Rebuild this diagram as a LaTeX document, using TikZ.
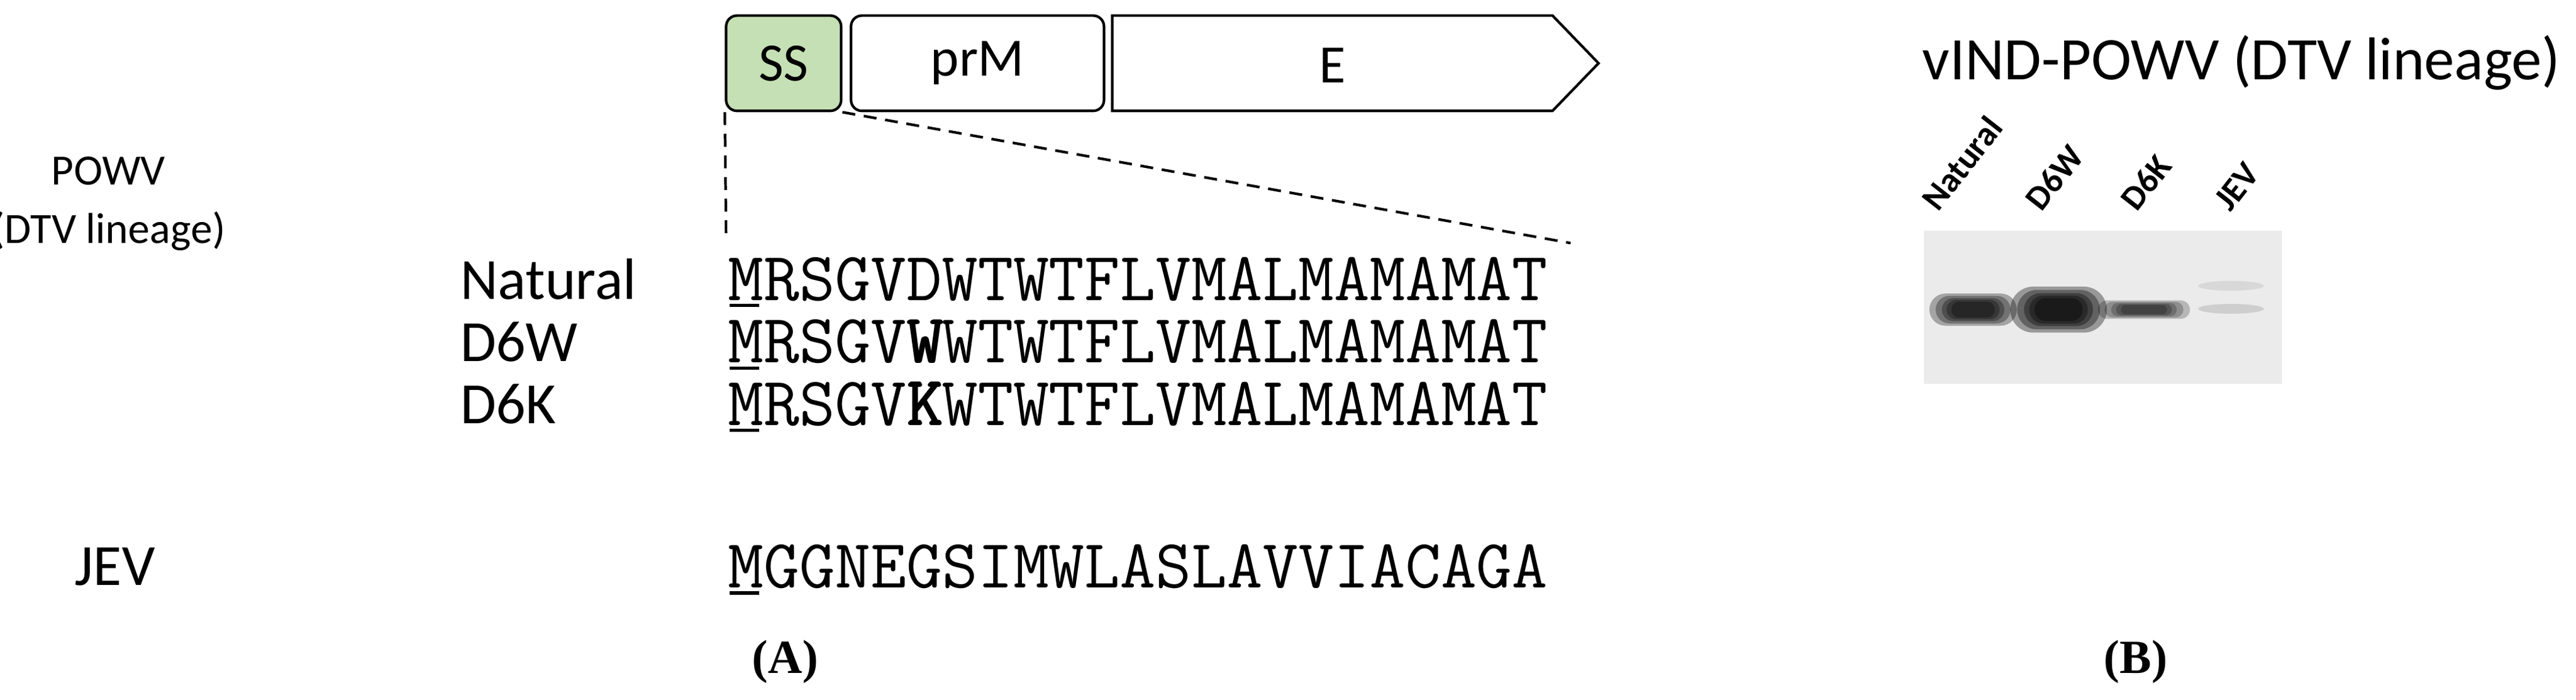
\documentclass[tikz,border=0pt]{standalone}
\usepackage{fontspec}
\setmainfont{Carlito}
\newfontfamily\capfont{Liberation Serif}
\usetikzlibrary{shapes.geometric}
\newcommand{\fakebold}[1]{\makebox[0pt][l]{\kern0.5pt #1}\makebox[0pt][l]{\kern1pt #1}\makebox[0pt][l]{\raisebox{0.4pt}{\kern0.5pt #1}}#1}
\begin{document}
\begin{tikzpicture}[x=0.0267cm,y=-0.0267cm,
  lab/.style={font=\fontsize{27}{30}\selectfont, inner sep=0pt},
  seq/.style={font=\ttfamily\fontsize{32}{34}\selectfont, anchor=west, inner sep=0pt},
  gene/.style={draw, line width=1.2pt, rounded corners=5pt, font=\fontsize{25}{28}\selectfont},
  lane/.style={font=\bfseries\fontsize{16}{17}\selectfont, rotate=52, anchor=south west, inner sep=0pt},
  dash line/.style={line width=1.2pt, dash pattern=on 6pt off 4pt}]
\useasboundingbox (0,0) rectangle (1568,426);
% gene map
\node[gene, fill={rgb,255:red,197;green,224;blue,180}, minimum width=70*0.0267cm, minimum height=58*0.0267cm] (ss) at (477,38.5) {SS};
\node[gene, minimum width=154*0.0267cm, minimum height=58*0.0267cm] (prm) at (595,38.5) {prM};
\draw[line width=1.2pt, line join=miter] (677,9.5) -- (945,9.5) -- (973,38.5) -- (945,67.5) -- (677,67.5) -- cycle;
\node[font=\fontsize{25}{28}\selectfont] (e) at (811,40) {E};
\coordinate (d1) at (442,146);
\coordinate (d2) at (956,148);
\draw[dash line] (ss.south west) -- (d1);
\draw[dash line] (ss.south east) -- (d2);
% left labels
\node[font=\fontsize{20}{27}\selectfont, align=center, inner sep=0pt] (powv) at (66,124) {POWV\\(DTV lineage)};
\node[lab, anchor=west] (nat) at (280,170) {Natural};
\node[lab, anchor=west] (d6w) at (280,208) {D6W};
\node[lab, anchor=west] (d6k) at (280,246) {D6K};
\node[lab] (jev) at (70,345) {JEV};
% sequences
\node[seq] (s1) at (443,170) {MRSGVDWTWTFLVMALMAMAMAT};
\node[seq] (s2) at (443,208) {MRSGV\fakebold{W}WTWTFLVMALMAMAMAT};
\node[seq] (s3) at (443,246) {MRSGV\fakebold{K}WTWTFLVMALMAMAMAT};
\node[seq] (s4) at (443,345) {MGGNEGSIMWLASLAVVIACAGA};
\foreach \y in {186,224,262,361} \draw[line width=1.5pt] (444,\y) -- (462,\y);
% captions
\node[font=\capfont\bfseries\fontsize{22}{24}\selectfont] (ca) at (478,403) {(A)};
\node[font=\capfont\bfseries\fontsize{22}{24}\selectfont] (cb) at (1300,403) {(B)};
% panel B
\node[font=\fontsize{28}{30}\selectfont, anchor=west, inner sep=0pt] (title) at (1170,38) {vIND-POWV (DTV lineage)};
\fill[black!8] (1171,140.5) rectangle (1389,233.6);
\node[lane] (l1) at (1180,130) {Natural};
\node[lane] (l2) at (1243,130) {D6W};
\node[lane] (l3) at (1301,130) {D6K};
\node[lane] (l4) at (1358,130) {JEV};
% bands
\foreach \cx/\w/\h/\o in {1201/19/7/0.3, 1253/21/10/0.35, 1305/20/4/0.22}{
  \foreach \s in {1.4,1.2,1.0,0.85,0.7}{
    \fill[black, opacity=\o, rounded corners={\h*\s*0.0267cm}] ({\cx-\w*\s},{188.5-\h*\s}) rectangle ({\cx+\w*\s},{188.5+\h*\s});
  }
}
\fill[black, opacity=0.12] (1358,188) ellipse ({20*0.0267cm} and {3*0.0267cm});
\fill[black, opacity=0.08] (1358,174) ellipse ({20*0.0267cm} and {3*0.0267cm});
\end{tikzpicture}
\end{document}
